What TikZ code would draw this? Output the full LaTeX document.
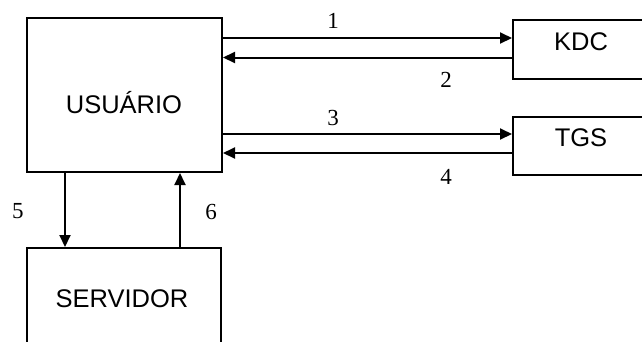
\documentclass[tikz,border=0pt]{standalone}
\usepackage{fontspec}
\setmainfont{Liberation Serif}
\newfontfamily\boxfont{Liberation Sans}
\usetikzlibrary{arrows.meta}
\begin{document}
\begin{tikzpicture}[x=1pt,y=-1pt,
  boxst/.style={draw,line width=2pt,rectangle,inner sep=0pt},
  boxtxt/.style={font=\boxfont\fontsize{25.5}{30}\selectfont,inner sep=0pt},
  numtxt/.style={font=\fontsize{23}{26}\selectfont,inner sep=0pt},
  arr/.style={line width=2pt,-{Triangle[length=12pt,width=11pt]}}]
\useasboundingbox (0,0) rectangle (642,341);
\clip (0,0) rectangle (642,341);
\node[boxst,minimum width=195pt,minimum height=154pt] (usr) at (124.5,95) {};
\node[boxst,minimum width=150pt,minimum height=58.5pt] (kdc) at (588,49.5) {};
\node[boxst,minimum width=150pt,minimum height=58pt] (tgs) at (588,146) {};
\node[boxst,minimum width=194pt,minimum height=120pt] (srv) at (124,308) {};
\node[boxtxt] (tusr) at (124,103) {USUÁRIO};
\node[boxtxt] (tkdc) at (581,42) {KDC};
\node[boxtxt] (ttgs) at (581,137.5) {TGS};
\node[boxtxt] (tsrv) at (122,299) {SERVIDOR};
\coordinate (a1) at ([yshift=-21pt]usr.north east);
\coordinate (a2) at ([yshift=-40.5pt]usr.north east);
\coordinate (a3) at ([yshift=-117pt]usr.north east);
\coordinate (a4) at ([yshift=-136pt]usr.north east);
\coordinate (a5) at ([xshift=39pt]usr.south west);
\coordinate (a6) at ([xshift=154pt]usr.south west);
\draw[arr] (a1) -- (a1 -| kdc.west);
\draw[arr] (a2 -| kdc.west) -- (a2);
\draw[arr] (a3) -- (a3 -| tgs.west);
\draw[arr] (a4 -| tgs.west) -- (a4);
\draw[arr] (a5) -- (a5 |- srv.north);
\draw[arr] (a6 |- srv.north) -- (a6);
\node[numtxt] (n1) at (333,21) {1};
\node[numtxt] (n2) at (446,80) {2};
\node[numtxt] (n3) at (333,118) {3};
\node[numtxt] (n4) at (446,177) {4};
\node[numtxt] (n5) at (18,211) {5};
\node[numtxt] (n6) at (211,212) {6};
\end{tikzpicture}
\end{document}
